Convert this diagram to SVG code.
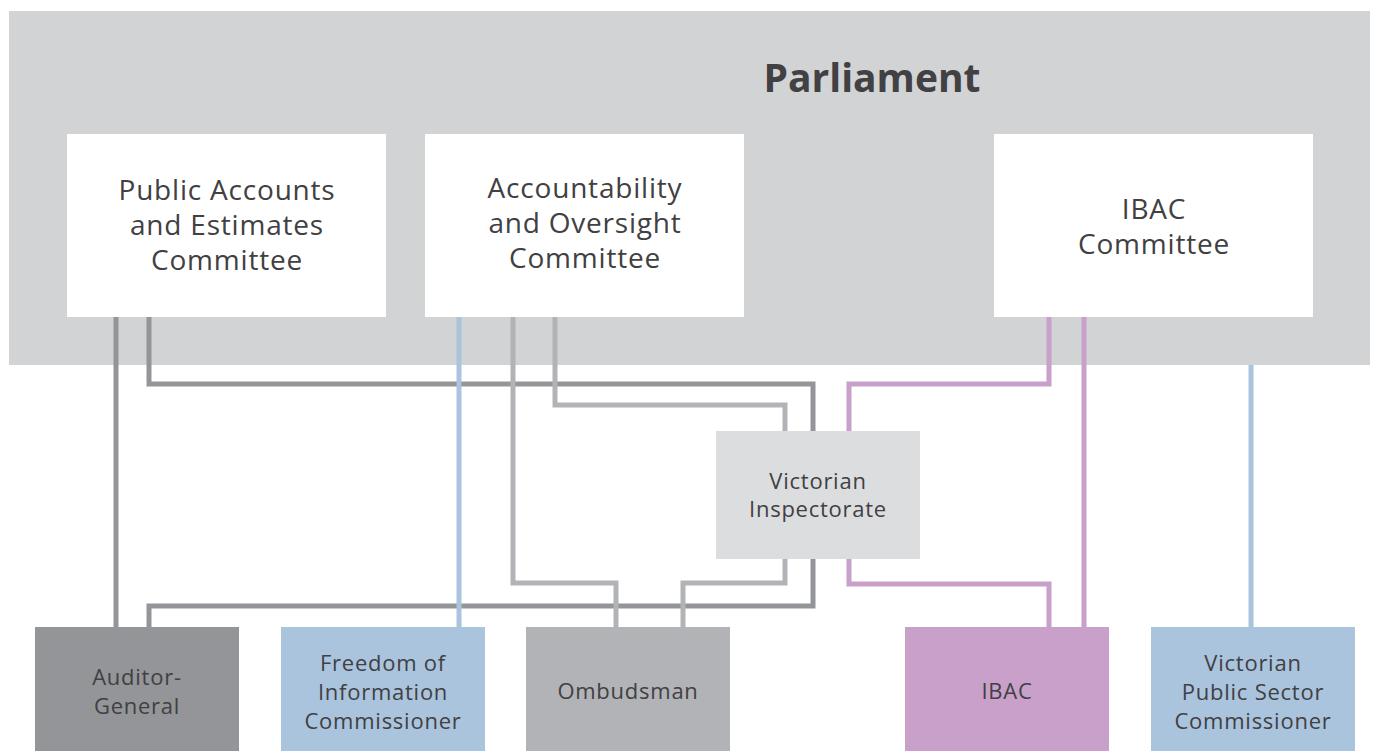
<svg xmlns="http://www.w3.org/2000/svg" width="1376" height="751" viewBox="0 0 1376 751">
<style>
  .t{font-family:"Open Sans","Liberation Sans",sans-serif;fill:#414042;text-anchor:middle}
  .big{font-size:28px;letter-spacing:0.8px}
  .sm{font-size:22px;letter-spacing:0.75px}
  .ln{fill:none;stroke-width:5;stroke-linejoin:miter}
  .dk{stroke:#939598}
  .lt{stroke:#b1b3b6}
  .bl{stroke:#aac4de}
  .pu{stroke:#c8a0c9}
</style>
<rect width="1376" height="751" fill="#ffffff"/>
<g id="parliament">
  <rect x="9" y="11" width="1361" height="354" fill="#d1d3d5"/>
  <text class="t" x="872" y="92" font-size="39" font-weight="bold">Parliament</text>
</g>
<g id="paec">
  <rect x="67" y="134" width="319" height="183" fill="#ffffff"/>
  <text class="t big" x="227" y="200">Public Accounts</text>
  <text class="t big" x="227" y="235">and Estimates</text>
  <text class="t big" x="227" y="270">Committee</text>
</g>
<g id="aoc">
  <rect x="425" y="134" width="319" height="183" fill="#ffffff"/>
  <text class="t big" x="585" y="198">Accountability</text>
  <text class="t big" x="585" y="233">and Oversight</text>
  <text class="t big" x="585" y="268">Committee</text>
</g>
<g id="ibac-committee">
  <rect x="994" y="134" width="319" height="183" fill="#ffffff"/>
  <text class="t big" x="1154" y="219">IBAC</text>
  <text class="t big" x="1154" y="254">Committee</text>
</g>
<g id="connectors">
  <path class="ln dk" d="M116 317V627"/>
  <path class="ln dk" d="M149 317V384H813V431"/>
  <path class="ln dk" d="M813 559V606H149V627"/>
  <path class="ln lt" d="M513 317V583H616V627"/>
  <path class="ln lt" d="M555 317V405H785V431"/>
  <path class="ln lt" d="M785 559V583H683V627"/>
  <path class="ln bl" d="M459 317V627"/>
  <path class="ln bl" d="M1251 365V627"/>
  <path class="ln pu" d="M1049 317V384H849V431"/>
  <path class="ln pu" d="M849 559V584H1049V627"/>
  <path class="ln pu" d="M1084 317V627"/>
</g>
<g id="victorian-inspectorate">
  <rect x="716" y="431" width="204" height="128" fill="#dcdddf"/>
  <text class="t sm" x="818" y="489">Victorian</text>
  <text class="t sm" x="818" y="517">Inspectorate</text>
</g>
<g id="auditor-general">
  <rect x="35" y="627" width="204" height="124" fill="#939598"/>
  <text class="t sm" x="137" y="685">Auditor-</text>
  <text class="t sm" x="137" y="714">General</text>
</g>
<g id="foi">
  <rect x="281" y="627" width="204" height="124" fill="#aac4de"/>
  <text class="t sm" x="383" y="671">Freedom of</text>
  <text class="t sm" x="383" y="700">Information</text>
  <text class="t sm" x="383" y="729">Commissioner</text>
</g>
<g id="ombudsman">
  <rect x="526" y="627" width="204" height="124" fill="#b1b3b6"/>
  <text class="t sm" x="628" y="699">Ombudsman</text>
</g>
<g id="ibac">
  <rect x="905" y="627" width="204" height="124" fill="#c8a0c9"/>
  <text class="t sm" x="1007" y="699">IBAC</text>
</g>
<g id="vpsc">
  <rect x="1151" y="627" width="204" height="124" fill="#aac4de"/>
  <text class="t sm" x="1253" y="671">Victorian</text>
  <text class="t sm" x="1253" y="700">Public Sector</text>
  <text class="t sm" x="1253" y="729">Commissioner</text>
</g>
</svg>
